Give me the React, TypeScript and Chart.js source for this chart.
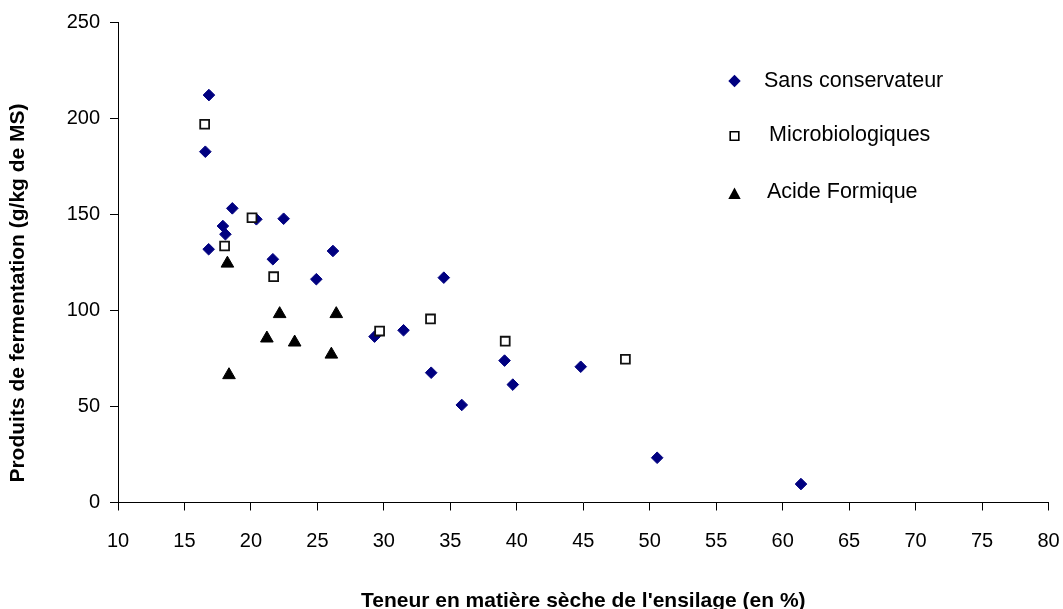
import React, { useEffect, useRef } from "react";
import { Chart, registerables } from "chart.js";

Chart.register(...registerables);

const seriesLabels = ["Sans conservateur", "Microbiologiques", "Acide Formique"];

const sansX = [16.84, 16.57, 18.6, 20.41, 22.46, 17.89, 18.08, 16.82, 21.65, 26.17, 24.92, 34.51, 29.3, 31.48, 33.56, 35.86, 39.08, 39.7, 44.81, 50.56, 61.38];
const sansY = [212.2, 182.7, 153.2, 147.5, 147.8, 144.0, 139.7, 131.9, 126.7, 131.0, 116.3, 117.1, 86.4, 89.7, 67.6, 50.8, 73.9, 61.4, 70.7, 23.3, 9.6];

const microX = [16.52, 20.08, 18.02, 21.71, 29.68, 33.51, 39.13, 48.17];
const microY = [197.0, 148.3, 133.6, 117.6, 89.3, 95.6, 84.0, 74.6];

const acideX = [18.23, 22.16, 26.42, 21.2, 23.29, 26.05, 18.35];
const acideY = [124.5, 98.2, 98.2, 85.5, 83.4, 77.1, 66.4];

const xTitle = "Teneur en matière sèche de l'ensilage (en %)";
const yTitle = "Produits de fermentation (g/kg de MS)";

const xMin = 10;
const xMax = 80;
const xStep = 5;
const yMin = 0;
const yMax = 250;
const yStep = 50;

const NAVY = "#000080";
const FONT = "'Liberation Sans', Arial, sans-serif";

const toPoints = (xs: number[], ys: number[]) => xs.map((x, i) => ({ x, y: ys[i] }));

const overlayPlugin = {
  id: "overlay",
  afterDraw(chart: any) {
    const ctx = chart.ctx as CanvasRenderingContext2D;
    const area = chart.chartArea;
    ctx.save();
    ctx.fillStyle = "#000";
    ctx.font = `bold 21px ${FONT}`;
    ctx.textAlign = "center";
    ctx.textBaseline = "alphabetic";
    ctx.fillText(xTitle, (area.left + area.right) / 2, 607);
    ctx.save();
    ctx.translate(23.5, 293);
    ctx.rotate(-Math.PI / 2);
    ctx.fillText(yTitle, 0, 0);
    ctx.restore();

    // legend
    const mx = 734.5;
    const rows = [81, 136, 194];
    const textX = [764, 769, 767];
    const baselines = [87, 141, 197.5];
    ctx.font = `21.5px ${FONT}`;
    ctx.textAlign = "left";
    chart.data.datasets.forEach((ds: any, i: number) => {
      const y = rows[i];
      ctx.beginPath();
      if (i === 0) {
        const r = 6.2;
        ctx.moveTo(mx - r, y);
        ctx.lineTo(mx, y - r);
        ctx.lineTo(mx + r, y);
        ctx.lineTo(mx, y + r);
        ctx.closePath();
        ctx.fillStyle = NAVY;
        ctx.fill();
      } else if (i === 1) {
        ctx.rect(mx - 4.3, y - 4.3, 8.6, 8.6);
        ctx.fillStyle = "#fff";
        ctx.fill();
        ctx.lineWidth = 1.6;
        ctx.strokeStyle = "#000";
        ctx.stroke();
      } else {
        ctx.moveTo(mx, y - 6.5);
        ctx.lineTo(mx + 6.2, y + 5);
        ctx.lineTo(mx - 6.2, y + 5);
        ctx.closePath();
        ctx.fillStyle = "#000";
        ctx.fill();
      }
      ctx.fillStyle = "#000";
      ctx.fillText(ds.label, textX[i], baselines[i]);
    });
    ctx.restore();
  },
};

export default function App() {
  const ref = useRef<HTMLCanvasElement | null>(null);

  useEffect(() => {
    if (!ref.current) return;
    const chart = new Chart(ref.current, {
      type: "scatter",
      data: {
        datasets: [
          {
            label: seriesLabels[0],
            data: toPoints(sansX, sansY),
            pointStyle: "rectRot",
            pointRadius: 5.8,
            pointBorderWidth: 1,
            backgroundColor: NAVY,
            borderColor: NAVY,
            order: 2,
          },
          {
            label: seriesLabels[1],
            data: toPoints(microX, microY),
            pointStyle: "rect",
            pointRadius: 6.3,
            pointBorderWidth: 1.8,
            backgroundColor: "#fff",
            borderColor: "#111",
            order: 1,
          },
          {
            label: seriesLabels[2],
            data: toPoints(acideX, acideY),
            pointStyle: "triangle",
            pointRadius: 7.3,
            pointBorderWidth: 1,
            backgroundColor: "#000",
            borderColor: "#000",
            order: 0,
          },
        ],
      },
      options: {
        responsive: false,
        animation: false,
        layout: { padding: { left: 0, top: 22.5, right: 14.5, bottom: 0 } },
        plugins: {
          legend: { display: false },
          tooltip: { enabled: false },
        },
        scales: {
          x: {
            type: "linear",
            min: xMin,
            max: xMax,
            afterFit: (s: any) => {
              s.height = 106.5;
              s.paddingLeft = 0;
              s.paddingRight = 0;
            },
            ticks: {
              stepSize: xStep,
              color: "#000",
              padding: 19,
              font: { family: FONT, size: 20 },
            },
            grid: {
              drawOnChartArea: false,
              drawTicks: true,
              tickLength: 8,
              color: "#000",
              lineWidth: 1,
            },
            border: { display: true, color: "#000", width: 1 },
          },
          y: {
            type: "linear",
            min: yMin,
            max: yMax,
            afterFit: (s: any) => {
              s.width = 118;
              s.paddingTop = 0;
              s.paddingBottom = 0;
            },
            ticks: {
              stepSize: yStep,
              color: "#000",
              padding: 10,
              font: { family: FONT, size: 20 },
            },
            grid: {
              drawOnChartArea: false,
              drawTicks: true,
              tickLength: 8,
              color: "#000",
              lineWidth: 1,
            },
            border: { display: true, color: "#000", width: 1 },
          },
        },
      },
      plugins: [overlayPlugin],
    });
    return () => chart.destroy();
  }, []);

  return (
    <div style={{ position: "absolute", left: 0, top: 0, width: 1063, height: 609, background: "#fff" }}>
      <canvas ref={ref} width={1063} height={609} style={{ display: "block" }} />
    </div>
  );
}
